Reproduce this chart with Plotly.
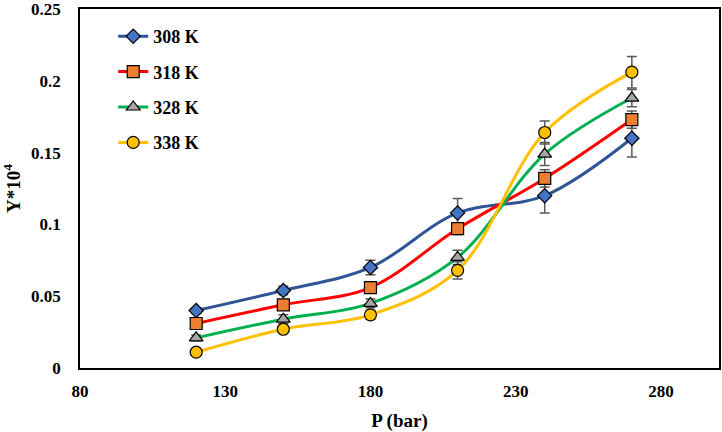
import plotly.graph_objects as go

pressure = [120, 150, 180, 210, 240, 270]
series_names = ["308 K", "318 K", "328 K", "338 K"]
y_308 = [0.040, 0.054, 0.070, 0.108, 0.120, 0.160]
y_318 = [0.031, 0.044, 0.056, 0.097, 0.132, 0.173]
y_328 = [0.021, 0.034, 0.045, 0.077, 0.149, 0.188]
y_338 = [0.011, 0.027, 0.037, 0.068, 0.164, 0.206]
err_308 = [0.002, 0.003, 0.005, 0.010, 0.012, 0.013]
err_318 = [0.002, 0.003, 0.003, 0.004, 0.006, 0.006]
err_328 = [0.002, 0.003, 0.003, 0.005, 0.008, 0.006]
err_338 = [0.002, 0.002, 0.003, 0.006, 0.008, 0.011]

x_ticks = [80, 130, 180, 230, 280]
y_ticks = [0, 0.05, 0.1, 0.15, 0.2, 0.25]
y_ticklabels = ["0", "0.05", "0.1", "0.15", "0.2", "0.25"]

line_colors = ["#2F5597", "#FF0000", "#00B050", "#FFC000"]
marker_colors = ["#4472C4", "#ED7D31", "#A5A5A5", "#FFC000"]
symbols = ["diamond", "square", "triangle-up", "circle"]
sizes = [11, 12, 12, 12]

font_family = "Liberation Serif, Times New Roman, serif"

fig = go.Figure()
for i, (name, ys, es) in enumerate(zip(series_names,
                                       [y_308, y_318, y_328, y_338],
                                       [err_308, err_318, err_328, err_338])):
    fig.add_trace(go.Scatter(
        x=pressure, y=ys, name=name, mode="lines+markers",
        legendgroup=name,
        line=dict(color=line_colors[i], width=3, shape="spline", smoothing=1),
        marker=dict(symbol=symbols[i], size=sizes[i], color=marker_colors[i],
                    line=dict(color="black", width=1.2)),
        error_y=dict(type="data", array=es, visible=True,
                     color="#595959", thickness=1.5, width=5),
    ))

fig.update_layout(
    width=722, height=432,
    margin=dict(l=80, r=3, t=9, b=64, autoexpand=False),
    paper_bgcolor="white", plot_bgcolor="white",
    font=dict(family=font_family, size=16, color="black"),
    showlegend=True,
    legend=dict(x=0.052, y=0.975, xanchor="left", yanchor="top",
                traceorder="grouped", tracegroupgap=9,
                font=dict(family=font_family, size=18, color="black", weight="bold"),
                bgcolor="rgba(0,0,0,0)", itemwidth=30),
    xaxis=dict(range=[80, 300], tickvals=x_ticks, ticks="", automargin=False,
               showline=True, linecolor="black", linewidth=1.5, mirror=True,
               showgrid=False, zeroline=False, ticklabelstandoff=7,
               ticklabeloverflow="allow",
               tickfont=dict(family=font_family, size=17, weight="bold"),
               title=dict(text="<b>P (bar)</b>", font=dict(family=font_family, size=19),
                          standoff=14)),
    yaxis=dict(range=[0, 0.25], tickvals=y_ticks, ticktext=y_ticklabels, ticks="",
               automargin=False, ticklabeloverflow="allow",
               showline=True, linecolor="black", linewidth=1.5, mirror=True,
               showgrid=False, zeroline=False, ticklabelstandoff=14,
               tickfont=dict(family=font_family, size=17, weight="bold"),
               title=dict(text="<b>Y*10<sup>4</sup></b>", font=dict(family=font_family, size=19),
                          standoff=8)),
)

fig.write_html("out.html", config={"displayModeBar": False},
               post_script="document.body.style.margin='0';")
